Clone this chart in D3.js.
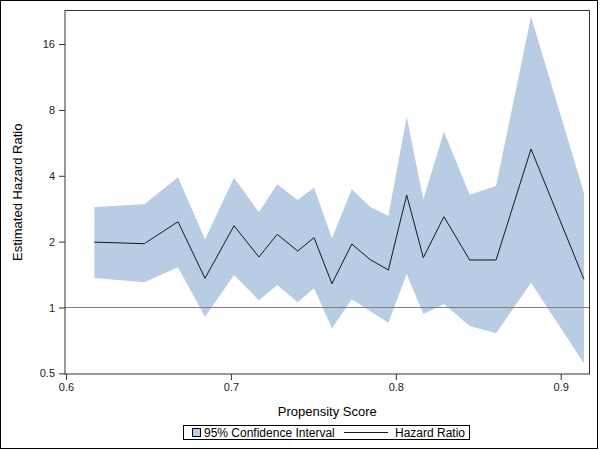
<!DOCTYPE html>
<html>
<head>
<meta charset="utf-8">
<script src="https://cdn.jsdelivr.net/npm/d3@7"></script>
<style>
  html, body { margin: 0; padding: 0; background: #fff; }
  svg { display: block; }
  text { font-family: "Liberation Sans", Arial, sans-serif; }
</style>
</head>
<body>
<svg id="chart" width="600" height="450"></svg>
<script>
// Data
const propensity = [0.6172, 0.6475, 0.6679, 0.6843, 0.7019, 0.7170, 0.7281, 0.7405, 0.7504, 0.7613,
                    0.7733, 0.7844, 0.7955, 0.8066, 0.8167, 0.8292, 0.8448, 0.8608, 0.8820, 0.9141];
const hazardRatio = [1.99, 1.957, 2.467, 1.36, 2.365, 1.701, 2.161, 1.812, 2.085, 1.285,
                     1.951, 1.657, 1.484, 3.268, 1.689, 2.60, 1.649, 1.649, 5.30, 1.346];
const upperCI = [2.88, 2.963, 3.936, 2.05, 3.92, 2.724, 3.657, 3.10, 3.528, 2.072,
                 3.469, 2.889, 2.62, 7.45, 3.123, 6.36, 3.278, 3.592, 21.34, 3.348];
const lowerCI = [1.364, 1.304, 1.527, 0.908, 1.408, 1.079, 1.267, 1.056, 1.224, 0.803,
                 1.09, 0.964, 0.852, 1.423, 0.934, 1.037, 0.823, 0.762, 1.298, 0.556];
const xTicks = [0.6, 0.7, 0.8, 0.9];
const yTicks = [0.5, 1, 2, 4, 8, 16];
const refValue = 1;

const data = propensity.map((p, i) => ({x: p, hr: hazardRatio[i], lo: lowerCI[i], hi: upperCI[i]}));

const svg = d3.select("#chart");
const L = 65, R = 589.5, T = 10.5, B = 374;

const x = d3.scaleLinear().domain([0.59939, 0.91747]).range([L, R]);
const y = d3.scaleLog().base(2).domain([0.4966, 22.78]).range([B, T]);

// outer border
svg.append("rect").attr("x", 0.5).attr("y", 0.5).attr("width", 597).attr("height", 448)
  .attr("fill", "none").attr("stroke", "#000").attr("stroke-width", 1);

// band
svg.append("path").datum(data)
  .attr("fill", "#b8cce4")
  .attr("d", d3.area().x(d => x(d.x)).y0(d => y(d.lo)).y1(d => y(d.hi)));

// reference line
svg.append("line").attr("x1", L).attr("x2", R).attr("y1", y(refValue)).attr("y2", y(refValue))
  .attr("stroke", "#808080").attr("stroke-width", 1);

// HR line
svg.append("path").datum(data)
  .attr("fill", "none").attr("stroke", "#101820").attr("stroke-width", 1)
  .attr("d", d3.line().x(d => x(d.x)).y(d => y(d.hr)));

// frame
svg.append("rect").attr("x", L).attr("y", T).attr("width", R - L).attr("height", B - T)
  .attr("fill", "none").attr("stroke", "#333").attr("stroke-width", 1);

// axes
const xAxis = svg.append("g").attr("transform", `translate(0,${B})`)
  .call(d3.axisBottom(x).tickValues(xTicks).tickFormat(d3.format(".1f")).tickSize(6).tickPadding(3));
const yAxis = svg.append("g").attr("transform", `translate(${L},0)`)
  .call(d3.axisLeft(y).tickValues(yTicks).tickFormat(d => String(d)).tickSize(6).tickPadding(4));
[xAxis, yAxis].forEach(g => {
  g.select(".domain").remove();
  g.selectAll(".tick line").attr("stroke", "#333");
  g.selectAll(".tick text").attr("fill", "#222").style("font-size", "11px")
    .style("font-family", '"Liberation Sans", Arial, sans-serif');
});

// axis labels
svg.append("text").attr("x", (L + R) / 2).attr("y", 416).attr("text-anchor", "middle")
  .style("font-size", "13px").attr("fill", "#000").text("Propensity Score");
svg.append("text").attr("transform", `translate(22,${(T + B) / 2}) rotate(-90)`)
  .attr("text-anchor", "middle").style("font-size", "13px").attr("fill", "#000")
  .text("Estimated Hazard Ratio");

// legend
const lg = svg.append("g");
lg.append("rect").attr("x", 183.5).attr("y", 425.5).attr("width", 286).attr("height", 14)
  .attr("fill", "#fff").attr("stroke", "#000");
lg.append("rect").attr("x", 192.5).attr("y", 428.5).attr("width", 8).attr("height", 8)
  .attr("fill", "#b8cce4").attr("stroke", "#000");
lg.append("text").attr("x", 204).attr("y", 437).style("font-size", "12px").text("95% Confidence Interval");
lg.append("line").attr("x1", 344).attr("x2", 388).attr("y1", 432.5).attr("y2", 432.5)
  .attr("stroke", "#101820").attr("stroke-width", 1);
lg.append("text").attr("x", 395).attr("y", 437).style("font-size", "12px").text("Hazard Ratio");
</script>
</body>
</html>
